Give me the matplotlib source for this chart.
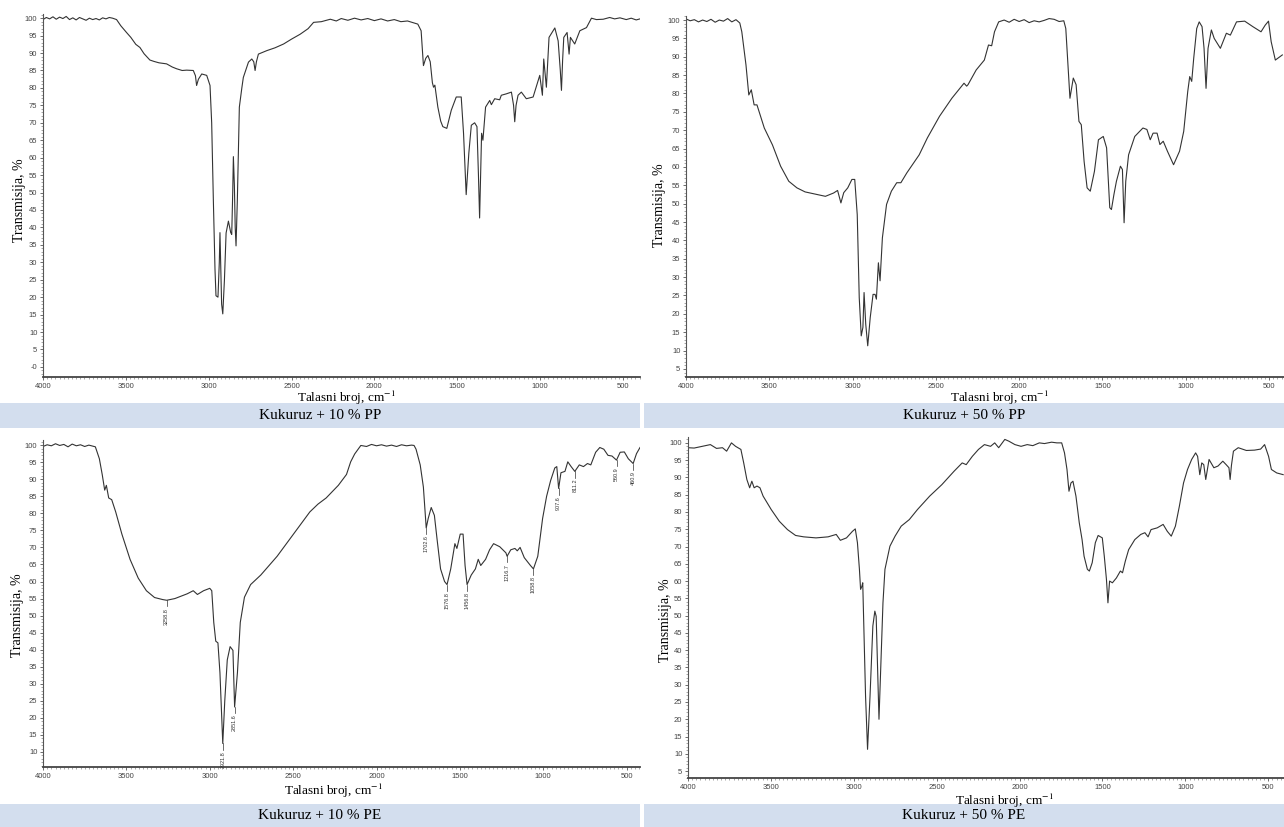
import matplotlib
matplotlib.use("Agg")
import matplotlib.pyplot as plt
from matplotlib.patches import Rectangle
from matplotlib.ticker import MultipleLocator, FixedLocator, FixedFormatter

plt.rcParams["mathtext.fontset"] = "stix"

# --- Kukuruz + 10 % PP (wavenumber, transmission) ---
pp10_wn = [4000, 3980, 3960, 3940, 3920, 3900, 3880, 3860, 3840, 3820, 3800, 3780, 3760, 3740, 3720,
           3700, 3680, 3660, 3640, 3620, 3600, 3580, 3556, 3530, 3496, 3470, 3440, 3415, 3390, 3355,
           3330, 3300, 3254, 3220, 3194, 3160, 3133, 3093, 3080, 3073, 3062, 3042, 3012, 2992, 2982,
           2972, 2962, 2956, 2944, 2936, 2932, 2928, 2922, 2915, 2905, 2895, 2881, 2867, 2861, 2855,
           2851, 2845, 2840, 2835, 2827, 2815, 2800, 2791, 2760, 2740, 2728, 2720, 2712, 2700, 2649,
           2600, 2548, 2500, 2448, 2400, 2367, 2320, 2266, 2230, 2200, 2160, 2120, 2080, 2040, 2000,
           1960, 1920, 1880, 1840, 1800, 1760, 1738, 1718, 1704, 1690, 1677, 1663, 1650, 1643, 1635,
           1617, 1600, 1587, 1563, 1536, 1506, 1476, 1462, 1446, 1430, 1415, 1395, 1381, 1372, 1365,
           1353, 1345, 1329, 1304, 1294, 1274, 1244, 1234, 1204, 1173, 1160, 1153, 1145, 1133, 1113,
           1083, 1042, 1002, 986, 978, 962, 946, 911, 891, 878, 871, 864, 857, 837, 825,
           817, 791, 760, 720, 690, 660, 619, 580, 550, 518, 480, 450, 420, 397]
pp10_t = [99.6, 100.2, 99.8, 100.4, 99.7, 100.3, 99.9, 100.5, 99.6, 100.1, 99.5, 100.2, 99.8, 99.4, 100.0,
          99.6, 99.9, 99.5, 100.1, 99.8, 100.2, 100.0, 99.6, 97.8, 95.9, 94.5, 92.5, 91.6, 89.8, 88.0,
          87.6, 87.2, 86.9, 86.0, 85.5, 85.0, 85.1, 85.0, 83.5, 80.7, 82.5, 84.0, 83.6, 80.7, 70.0,
          48.0, 28.0, 20.4, 20.0, 30.0, 38.5, 30.0, 18.0, 15.2, 25.0, 38.4, 41.8, 38.5, 38.0, 50.0,
          60.3, 52.0, 40.0, 34.7, 48.0, 74.5, 80.0, 83.0, 87.4, 88.3, 87.5, 85.0, 87.5, 89.7, 90.7,
          91.5, 92.6, 94.0, 95.4, 97.0, 98.8, 99.0, 99.7, 99.2, 99.9, 99.4, 100.0, 99.5, 99.9, 99.3,
          99.8, 99.2, 99.6, 99.0, 99.2, 98.6, 98.3, 96.4, 86.4, 88.5, 89.3, 87.5, 81.5, 80.2, 80.8,
          74.5, 70.5, 68.9, 68.4, 73.6, 77.4, 77.4, 67.0, 49.4, 61.3, 69.3, 70.0, 68.9, 55.0, 42.7,
          67.0, 65.0, 74.5, 76.4, 75.2, 76.9, 76.6, 77.9, 78.3, 78.8, 75.0, 70.3, 75.0, 77.9, 78.8,
          76.9, 77.4, 83.6, 77.9, 88.3, 80.2, 94.5, 97.2, 93.5, 85.0, 79.3, 88.0, 94.5, 95.9, 89.7,
          94.5, 92.6, 96.4, 97.3, 100.0, 99.6, 99.7, 100.2, 99.8, 100.1, 99.6, 100.0, 99.5, 99.8]

# --- Kukuruz + 50 % PP ---
pp50_wn = [4000, 3975, 3950, 3925, 3900, 3875, 3850, 3825, 3800, 3775, 3750, 3725, 3700, 3677, 3665,
           3640, 3623, 3608, 3591, 3574, 3530, 3481, 3432, 3383, 3334, 3285, 3212, 3163, 3114, 3090,
           3070, 3053, 3029, 3004, 2987, 2972, 2960, 2948, 2938, 2931, 2921, 2909, 2894, 2877, 2865,
           2857, 2845, 2835, 2821, 2796, 2767, 2735, 2710, 2674, 2600, 2551, 2478, 2404, 2331, 2315,
           2307, 2258, 2209, 2184, 2165, 2148, 2123, 2090, 2060, 2030, 2000, 1970, 1940, 1910, 1880,
           1850, 1820, 1790, 1760, 1732, 1720, 1707, 1695, 1675, 1658, 1641, 1627, 1610, 1592, 1573,
           1548, 1524, 1495, 1475, 1456, 1446, 1431, 1416, 1392, 1380, 1370, 1360, 1343, 1306, 1257,
           1233, 1213, 1196, 1172, 1155, 1135, 1110, 1073, 1037, 1012, 988, 976, 964, 952, 934,
           919, 902, 890, 878, 866, 846, 829, 792, 756, 732, 695, 646, 597, 548, 523,
           503, 487, 462, 420]
pp50_t = [100.3, 99.8, 100.1, 99.5, 100.0, 99.6, 100.2, 99.4, 100.0, 99.7, 100.4, 99.5, 100.1, 99.2, 96.8,
          87.8, 79.6, 81.0, 76.9, 76.9, 70.6, 66.0, 60.2, 56.1, 54.3, 53.2, 52.5, 52.0, 52.9, 53.6,
          50.2, 53.0, 54.3, 56.6, 56.6, 47.0, 24.4, 14.0, 16.3, 25.8, 17.2, 11.3, 19.0, 25.3, 25.3,
          24.0, 33.9, 29.0, 40.7, 49.8, 53.4, 55.7, 55.7, 58.4, 63.3, 67.9, 73.8, 78.7, 82.8, 82.0,
          82.4, 86.4, 89.1, 93.2, 93.0, 96.8, 99.5, 100.0, 99.4, 100.2, 99.6, 100.1, 99.3, 99.8, 99.5,
          99.9, 100.4, 100.2, 99.6, 99.8, 97.7, 87.8, 78.7, 84.2, 82.4, 72.4, 71.5, 61.5, 54.3, 53.4,
          58.8, 67.4, 68.3, 65.2, 48.9, 48.4, 52.5, 56.1, 60.2, 59.3, 44.8, 56.1, 63.3, 68.3, 70.6,
          70.2, 67.4, 69.2, 69.2, 66.1, 67.0, 64.3, 60.6, 64.3, 69.7, 80.5, 84.6, 83.3, 89.6, 97.7,
          99.5, 98.2, 92.3, 81.4, 92.3, 97.3, 95.0, 92.3, 96.4, 95.9, 99.5, 99.7, 98.2, 96.8, 98.6,
          99.7, 94.1, 89.1, 90.5]

# --- Kukuruz + 10 % PE ---
pe10_wn = [4000, 3975, 3950, 3925, 3900, 3875, 3850, 3825, 3800, 3775, 3750, 3725, 3700, 3686, 3662,
           3645, 3630, 3620, 3606, 3588, 3564, 3527, 3478, 3429, 3380, 3331, 3282, 3258, 3209, 3135,
           3099, 3074, 3037, 3000, 2988, 2976, 2964, 2951, 2939, 2922, 2910, 2895, 2878, 2861, 2851,
           2834, 2817, 2792, 2755, 2694, 2596, 2498, 2400, 2351, 2302, 2229, 2180, 2155, 2131, 2094,
           2060, 2030, 2000, 1970, 1940, 1910, 1880, 1850, 1820, 1790, 1775, 1763, 1738, 1719, 1702,
           1690, 1672, 1653, 1636, 1616, 1592, 1577, 1555, 1530, 1518, 1498, 1481, 1469, 1457, 1432,
           1407, 1390, 1375, 1346, 1322, 1298, 1261, 1224, 1217, 1195, 1170, 1156, 1139, 1114, 1077,
           1059, 1033, 1004, 980, 956, 931, 919, 908, 894, 870, 853, 833, 811, 784, 759,
           735, 715, 686, 661, 637, 612, 588, 561, 539, 514, 490, 461, 441, 420]
pe10_t = [99.6, 100.1, 99.8, 100.4, 99.9, 100.2, 99.5, 100.3, 99.8, 100.1, 99.6, 100.0, 99.7, 99.5, 96.0,
          91.4, 86.8, 88.2, 84.5, 84.0, 80.4, 73.9, 66.5, 61.0, 57.3, 55.3, 54.7, 54.5, 55.0, 56.4,
          57.3, 56.2, 57.3, 58.0, 57.3, 48.0, 42.5, 42.0, 33.3, 12.5, 25.0, 37.0, 40.9, 39.8, 23.2,
          33.3, 48.0, 55.4, 59.1, 61.9, 67.4, 73.9, 80.4, 82.7, 84.5, 88.2, 91.4, 95.1, 97.4, 99.9,
          99.6, 100.2, 99.8, 100.1, 99.7, 100.0, 99.6, 100.1, 99.8, 100.0, 99.9, 98.8, 94.2, 87.7, 75.7,
          78.5, 81.7, 79.4, 72.0, 63.7, 60.0, 59.1, 63.7, 71.1, 69.7, 73.9, 73.9, 64.7, 59.1, 61.9,
          63.7, 66.5, 64.7, 66.5, 69.3, 71.1, 70.2, 68.4, 67.4, 69.3, 69.7, 69.0, 70.0, 67.0, 64.7,
          63.7, 67.4, 78.5, 85.0, 89.6, 93.3, 93.7, 87.3, 91.9, 92.3, 95.1, 93.7, 92.3, 94.2, 93.7,
          94.6, 94.2, 97.9, 99.3, 98.8, 97.0, 96.8, 95.6, 97.9, 98.0, 96.0, 94.6, 97.5, 99.3]

pe10_peaks = [3258.8, 2921.8, 2851.6, 1702.6, 1576.8, 1456.8, 1216.7, 1058.8, 907.6, 811.2, 560.9, 460.9]
pe10_peak_t = [54.5, 12.5, 23.2, 75.7, 59.1, 59.1, 67.4, 63.7, 87.3, 92.3, 95.6, 94.6]

# --- Kukuruz + 50 % PE ---
pe50_wn = [4000, 3963, 3914, 3865, 3828, 3792, 3767, 3738, 3713, 3681, 3664, 3645, 3628, 3615, 3601,
           3584, 3566, 3547, 3498, 3449, 3400, 3351, 3302, 3228, 3155, 3106, 3081, 3044, 3008, 2991,
           2978, 2966, 2959, 2951, 2946, 2939, 2929, 2917, 2902, 2885, 2873, 2865, 2856, 2848, 2836,
           2824, 2812, 2782, 2751, 2714, 2665, 2616, 2542, 2469, 2395, 2346, 2322, 2285, 2248, 2212,
           2175, 2150, 2126, 2089, 2065, 2028, 1991, 1954, 1920, 1881, 1850, 1807, 1775, 1746, 1729,
           1714, 1702, 1690, 1678, 1660, 1640, 1623, 1611, 1591, 1579, 1562, 1543, 1526, 1501, 1489,
           1476, 1467, 1457, 1440, 1416, 1392, 1379, 1362, 1342, 1305, 1269, 1244, 1225, 1207, 1170,
           1134, 1109, 1085, 1060, 1036, 1011, 987, 962, 938, 926, 913, 901, 889, 877, 857,
           828, 803, 774, 754, 737, 730, 722, 710, 681, 632, 583, 546, 522, 498, 481,
           449, 410]
pe50_t = [98.6, 98.5, 99.0, 99.5, 98.4, 98.6, 97.6, 100.0, 99.0, 98.1, 94.2, 89.4, 87.0, 88.9, 87.0,
          87.5, 87.0, 84.6, 80.7, 77.3, 74.9, 73.2, 72.8, 72.5, 72.8, 73.5, 71.8, 72.5, 74.4, 75.1,
          71.1, 63.4, 57.6, 58.5, 59.5, 46.0, 26.7, 11.3, 26.7, 47.0, 51.3, 49.8, 34.4, 20.0, 36.4,
          53.7, 63.4, 70.1, 73.0, 75.9, 77.8, 80.7, 84.6, 87.9, 91.8, 94.2, 93.7, 96.1, 98.1, 99.5,
          99.0, 100.0, 98.6, 101.0, 100.5, 99.5, 99.0, 99.5, 99.2, 100.0, 99.8, 100.2, 100.0, 100.0, 97.1,
          92.3, 86.0, 88.4, 88.9, 84.6, 76.9, 72.0, 67.2, 63.4, 62.9, 65.3, 71.1, 73.2, 72.5, 67.2,
          60.5, 53.7, 60.0, 59.5, 60.9, 62.9, 62.4, 65.8, 69.1, 72.0, 73.5, 74.0, 72.8, 74.9, 75.4,
          76.4, 74.4, 73.0, 75.9, 81.7, 88.4, 92.3, 95.2, 97.1, 96.1, 90.8, 94.2, 93.7, 89.4, 95.2,
          92.8, 93.3, 94.7, 93.7, 92.8, 89.4, 93.5, 97.6, 98.6, 97.8, 97.9, 98.2, 99.5, 96.1, 92.3,
          91.3, 90.8]

captions = ["Kukuruz + 10 % PP", "Kukuruz + 50 % PP", "Kukuruz + 10 % PE", "Kukuruz + 50 % PE"]

W, H = 1284, 827
fig = plt.figure(figsize=(W / 100, H / 100), dpi=100)
fig.patch.set_facecolor("white")

serif = ["Liberation Serif", "DejaVu Serif"]
sans = ["Liberation Sans", "DejaVu Sans"]
line_col = "#333333"


def px_rect(x0, y0, x1, y1):
    # pixel box (top-left origin) -> figure fraction [left, bottom, width, height]
    return [x0 / W, 1 - y1 / H, (x1 - x0) / W, (y1 - y0) / H]


def panel(box, wn, t, xlim, ylim, yticks, ylabels, xlab_pos, ylab_pos):
    ax = fig.add_axes(px_rect(*box))
    ax.plot(wn, t, color=line_col, lw=0.8)
    ax.set_xlim(*xlim)
    ax.set_ylim(*ylim)
    for s in ["top", "right"]:
        ax.spines[s].set_visible(False)
    ax.spines["left"].set_color("#555555")
    ax.spines["left"].set_linewidth(0.8)
    ax.spines["bottom"].set_color("#444444")
    ax.spines["bottom"].set_linewidth(1.3)
    ax.xaxis.set_major_locator(FixedLocator([4000, 3500, 3000, 2500, 2000, 1500, 1000, 500]))
    ax.xaxis.set_minor_locator(MultipleLocator(25))
    ax.yaxis.set_major_locator(FixedLocator(yticks))
    ax.yaxis.set_major_formatter(FixedFormatter(ylabels))
    ax.yaxis.set_minor_locator(MultipleLocator(1))
    ax.tick_params(which="major", length=2.5, width=0.6, color="#555555",
                   labelsize=5.5, labelcolor="#444444", pad=1.5)
    ax.tick_params(which="minor", length=1.3, width=0.4, color="#666666")
    for lab in ax.get_xticklabels() + ax.get_yticklabels():
        lab.set_fontfamily(sans)
    fig.text(xlab_pos[0] / W, 1 - xlab_pos[1] / H, "Talasni broj, cm$^{-1}$",
             family=serif, fontsize=9.5, ha="center", va="top")
    fig.text(ylab_pos[0] / W, 1 - ylab_pos[1] / H, "Transmisija, %",
             family=serif, fontsize=10, rotation=90, ha="center", va="center")
    return ax


# caption bars
bar_col = "#d3deee"
for (x0, y0, x1, y1), cap in zip([(0, 403, 640, 428), (644, 403, 1284, 428),
                                  (0, 804, 640, 827), (644, 804, 1284, 827)], captions):
    fig.patches.append(Rectangle((x0 / W, 1 - y1 / H), (x1 - x0) / W, (y1 - y0) / H,
                                 transform=fig.transFigure, facecolor=bar_col,
                                 edgecolor="none", zorder=0))
    fig.text((x0 + x1) / 2 / W, 1 - (y0 + y1) / 2 / H, cap, family=serif,
             fontsize=11, ha="center", va="center")

yt0 = list(range(0, 101, 5))
yl0 = ["-0"] + [str(v) for v in yt0[1:]]
yt5 = list(range(5, 101, 5))
yt10 = list(range(10, 101, 5))

panel((43, 14, 640, 377), pp10_wn, pp10_t, (4000, 397), (-2.9, 101.2),
      yt0, yl0, (346, 389), (20, 200))
panel((686, 16, 1284, 377), pp50_wn, pp50_t, (4000, 410), (2.8, 101.1),
      yt5, [str(v) for v in yt5], (999, 389), (660, 205))
ax3 = panel((43, 440, 640, 767), pe10_wn, pe10_t, (4000, 420), (5.6, 101.5),
            yt10, [str(v) for v in yt10], (333, 782), (18, 615))
panel((688, 437, 1284, 778), pe50_wn, pe50_t, (4000, 405), (3.0, 101.7),
      yt5, [str(v) for v in yt5], (1004, 792), (665, 620))

# peak labels on the 10 % PE spectrum
for p, tv in zip(pe10_peaks, pe10_peak_t):
    ax3.plot([p, p], [tv, tv - 1.8], color=line_col, lw=0.5)
    ax3.text(p, tv - 2.2, f"{p:.1f}", rotation=90, ha="center", va="top",
             fontsize=4, family=sans, color="#333333")

fig.savefig("out.png", dpi=100, facecolor="white")
